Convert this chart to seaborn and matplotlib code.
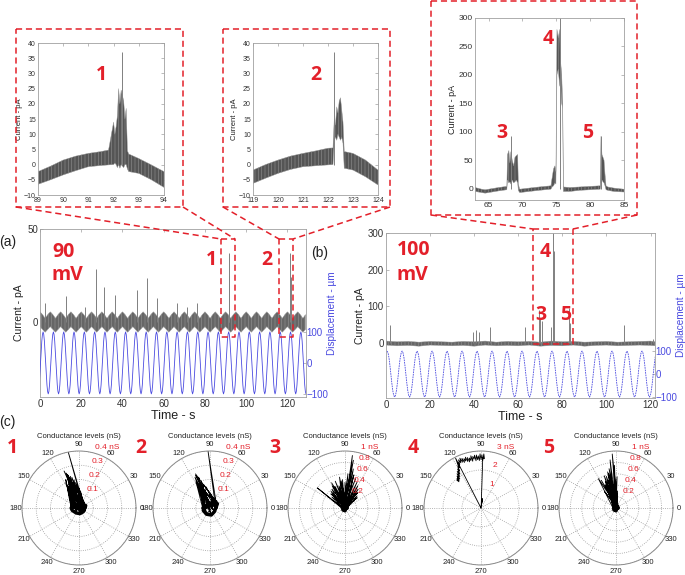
import numpy as np
import matplotlib
matplotlib.use('Agg')
import matplotlib.pyplot as plt
import seaborn as sns

W, H = 685, 575
RED = '#e3202a'
BLUE = '#4a4ae0'
GRAY = '#555555'

# ---------------- panel (a), 90 mV ----------------
a_band_step = 1.25
a_band_hi_cycle = [5.5, 4.0, 2.0, 4.0]
a_band_lo_cycle = [-2.5, -4.0, -5.5, -4.0]
a_band_cycles = 26
a_spike_t = [2.4, 12.6, 21.8, 27.2, 31.0, 36.4, 47.0, 51.9, 56.6, 66.3, 71.2, 76.0, 91.5, 91.8, 121.4, 121.7]
a_spike_h = [10, 14, 8, 28.5, 19, 14.5, 17, 23.6, 13, 10, 8, 10, 37, 25, 37, 24]
a_disp_cycle = [100, 92, 71, 38, 0, -38, -71, -92, -100, -92, -71, -38, 0, 38, 71, 92]
a_disp_period = 5.0
a_disp_first_peak = -3.5
a_disp_cycles = 28

# ---------------- panel (b), 100 mV ----------------
b_band_t = [0, 5, 10, 15, 20, 25, 30, 35, 40, 45, 50, 55, 60, 65, 70, 75, 80, 85, 90, 95, 100, 105, 110, 115, 120, 122]
b_band_hi = [6, 4, 5, 3, 5, 4, 3, 5, 4, 6, 3, 5, 4, 5, 3, 6, 4, 5, 3, 4, 5, 3, 4, 5, 6, 4]
b_band_lo = [-5, -7, -6, -8, -5, -6, -7, -6, -8, -5, -7, -6, -7, -5, -8, -6, -7, -5, -8, -6, -5, -7, -6, -5, -6, -7]
b_spike_t = [1.8, 39.5, 41.0, 42.3, 47.0, 63.0, 69.3, 70.0, 70.6, 74.9, 75.9, 76.3, 83.0, 83.5, 108.0, 121.0]
b_spike_h = [50, 30, 35, 30, 45, 45, 90, 65, 60, 45, 300, 250, 95, 55, 50, 12]
b_disp_cycle = [100, 92, 71, 38, 0, -38, -71, -92, -100, -92, -71, -38, 0, 38, 71, 92]
b_disp_period = 6.8
b_disp_first_peak = 0.5
b_disp_cycles = 18

# ---------------- zoom insets ----------------
i1_t = [89, 89.5, 90, 90.5, 91, 91.5, 91.8, 92.0, 92.05, 92.1, 92.15, 92.2, 92.25, 92.3, 92.4, 92.45, 92.5, 92.55, 92.6, 93, 93.5, 94]
i1_hi = [-2.3, -0.5, 1.5, 2.8, 3.7, 4.3, 4.8, 14, 10, 12.5, 16, 25, 20, 24.5, 21, 15, 18.5, 4.5, 3.5, 2, -0.1, -2.3]
i1_lo = [-6.5, -5, -3.4, -2, -0.7, -0.3, -0.1, 0, 0.5, 0, -1, 0, -1.2, 0, -1, 0, 0, -1.5, -2.3, -2.9, -5, -7.5]
i1_spike_t = [92.35]
i1_spike_h = [37]

i2_t = [119, 119.5, 120, 120.5, 121, 121.5, 122, 122.2, 122.25, 122.3, 122.35, 122.4, 122.45, 122.5, 122.55, 122.6, 122.65, 123, 123.5, 124]
i2_hi = [-1.8, 0, 1.5, 2.8, 3.7, 4.5, 5.4, 5.5, 15, 13, 19, 17, 21, 22, 18, 14, 4.3, 3.7, 1.5, -1.8]
i2_lo = [-6.2, -4.5, -2.9, -1.6, -0.7, -0.4, -0.1, 0, 8, 9, 8, 10, 9, 8, 9, 7, -1.2, -1.8, -4, -6.7]
i2_spike_t = [122.25]
i2_spike_h = [37]

i3_t = [63, 64, 64.5, 65.5, 66.5, 67.7, 67.8, 68.0, 68.15, 68.3, 68.5, 68.7, 68.9, 69.1, 69.3, 69.4, 69.6, 71, 72.5,
        74.2, 74.4, 74.6, 74.8, 74.95, 75.1, 75.3, 75.5, 75.6, 75.8, 75.95, 76.05, 77, 78.5, 80, 81.5, 81.6, 81.75,
        81.9, 82.05, 82.2, 82.35, 82.6, 83.5, 85]
i3_hi = [2, -1, -2, 0, 2, 4, 60, 67, 45, 65, 50, 40, 55, 58, 60, 8, -1, 1, 3,
         5, 20, 35, 40, 30, 280, 265, 280, 230, 200, 150, 3, 2, 3, 4, 5, 92, 60,
         55, 50, 25, 5, 3, 1, -1]
i3_lo = [-5, -7, -8, -6, -4, -2, 15, 10, 12, 8, 15, 10, 12, 15, 10, -3, -7, -5, -3,
         -1, 3, 5, 10, 8, 200, 210, 180, 190, 150, 140, -5, -5, -3, -2, -1, 10, 15,
         12, 10, 5, -2, -3, -5, -6]
i3_spike_t = [68.3, 75.5, 81.6]
i3_spike_h = [93, 300, 92]

# ---------------- polar conductance plots (deg, nS) ----------------
p1_theta = [101, 112, 110, 108, 115, 105, 100, 118, 98, 104, 95, 90, 85, 120, 113, 107, 102, 96, 80, 75, 109, 117, 103, 111]
p1_r = [0.41, 0.28, 0.26, 0.24, 0.22, 0.23, 0.2, 0.2, 0.18, 0.17, 0.15, 0.14, 0.12, 0.15, 0.18, 0.21, 0.19, 0.16, 0.1, 0.08, 0.25, 0.17, 0.22, 0.2]
p1_blob_theta = [0, 40, 90, 150, 180, 200, 240, 280, 320, 20, 170, 340]
p1_blob_r = [0.04, 0.035, 0.025, 0.04, 0.055, 0.05, 0.04, 0.04, 0.04, 0.05, 0.05, 0.04]

p2_theta = [92, 113, 116, 110, 118, 108, 112, 120, 105, 100, 95, 115, 60, 50, 40, 111, 117, 114]
p2_r = [0.4, 0.26, 0.24, 0.23, 0.21, 0.2, 0.19, 0.18, 0.17, 0.15, 0.12, 0.16, 0.08, 0.07, 0.06, 0.22, 0.2, 0.25]
p2_blob_theta = [0, 45, 90, 160, 200, 240, 280, 320, 30, 180]
p2_blob_r = [0.04, 0.06, 0.025, 0.04, 0.05, 0.05, 0.05, 0.04, 0.06, 0.05]

p3_theta = [82, 80, 144, 75, 65, 60, 55, 50, 45, 120, 125, 130, 110, 100, 95, 90, 105, 115, 135, 70, 85, 140, 40, 78, 98, 118]
p3_r = [0.93, 0.85, 0.6, 0.6, 0.5, 0.45, 0.4, 0.35, 0.3, 0.45, 0.4, 0.38, 0.5, 0.55, 0.5, 0.45, 0.4, 0.42, 0.35, 0.55, 0.6, 0.3, 0.28, 0.7, 0.48, 0.5]
p3_blob_theta = [0, 90, 180, 270, 45, 225]
p3_blob_r = [0.04, 0.03, 0.04, 0.05, 0.04, 0.05]

p4_theta = [0, 83, 80, 82, 84, 88,
            86, 87, 88, 89, 90, 91, 92, 93, 94, 95, 96, 97, 98, 99, 100, 101, 102, 103, 104, 105, 106, 107, 108,
            109, 110, 111, 112, 113, 114, 115, 116, 117, 118, 119, 120, 121, 122, 123, 124, 125, 126, 127, 128,
            129, 130, 131,
            129, 126, 123, 120, 118, 117, 0]
p4_r = [0, 0.45, 0.15, 0.5, 0.1, 2.65,
        2.6, 2.85, 2.5, 2.8, 2.55, 2.85, 2.5, 2.75, 2.55, 2.8, 2.5, 2.8, 2.6, 2.75, 2.5, 2.8, 2.55, 2.7, 2.5,
        2.75, 2.55, 2.8, 2.6, 2.75, 2.55, 2.8, 2.6, 2.85, 2.6, 2.8, 2.55, 2.7, 2.4, 2.5, 2.25, 2.4, 2.1, 2.3,
        2.0, 2.2, 1.9, 2.1, 1.85, 2.0, 1.8, 1.95,
        1.9, 2.05, 2.15, 2.35, 2.6, 2.95, 0]

p5_theta = [94, 97, 92, 100, 103, 121, 118, 110, 105, 115, 112, 108, 125, 99, 88, 85, 102, 107]
p5_r = [0.95, 0.85, 0.75, 0.7, 0.65, 0.6, 0.55, 0.6, 0.5, 0.45, 0.5, 0.4, 0.35, 0.45, 0.55, 0.3, 0.62, 0.58]
p5_blob_theta = [0, 90, 180, 270, 45, 225]
p5_blob_r = [0.04, 0.03, 0.04, 0.05, 0.04, 0.05]

angle_ticks = list(range(0, 360, 30))
ring_small = [0.1, 0.2, 0.3, 0.4]
ring_small_lab = ['0.1', '0.2', '0.3', '0.4 nS']
ring_one = [0.2, 0.4, 0.6, 0.8, 1.0]
ring_one_lab = ['0.2', '0.4', '0.6', '0.8', '1 nS']
ring_three = [1, 2, 3]
ring_three_lab = ['1', '2', '3 nS']

sns.set_theme(style='white')
plt.rcParams['font.family'] = ['Liberation Sans', 'DejaVu Sans']
plt.rcParams['hatch.linewidth'] = 0.35
BIG = ['Open Sans', 'DejaVu Sans']

fig = plt.figure(figsize=(W / 100, H / 100), dpi=100)
fig.patch.set_facecolor('white')


def rect(x0, y0, x1, y1):
    return [x0 / W, 1 - y1 / H, (x1 - x0) / W, (y1 - y0) / H]


def style(ax, fs):
    for s in ax.spines.values():
        s.set_color('#a0a0a0')
        s.set_linewidth(0.6)
    ax.tick_params(direction='in', length=2, width=0.5, colors='#a0a0a0',
                   labelcolor='#333333', labelsize=fs, pad=1.5, top=True, right=True)


def trace(ax, t, lo, hi, st, sh, base, face):
    ax.fill_between(t, lo, hi, facecolor=face, edgecolor='#9a9a9a', hatch='|||||', lw=0.3)
    ax.vlines(st, base, sh, color='#808080', lw=0.7)


# zoom insets
for box, t, lo, hi, st, sh, xl, yl, xt, yt, fs, lfs in [
        ((38, 43, 164, 195), i1_t, i1_lo, i1_hi, i1_spike_t, i1_spike_h, (89, 94), (-10, 40), range(89, 95), range(-10, 41, 5), 5, 5.5),
        ((253, 43, 378, 195), i2_t, i2_lo, i2_hi, i2_spike_t, i2_spike_h, (119, 124), (-10, 40), range(119, 125), range(-10, 41, 5), 5, 5.5),
        ((475, 18, 624, 200), i3_t, i3_lo, i3_hi, i3_spike_t, i3_spike_h, (63, 85), (-20, 300), range(65, 86, 5), range(0, 301, 50), 6, 6.5)]:
    ax = fig.add_axes(rect(*box))
    trace(ax, t, lo, hi, st, sh, 0, GRAY)
    ax.set_xlim(*xl)
    ax.set_ylim(*yl)
    ax.set_xticks(list(xt))
    ax.set_yticks(list(yt))
    style(ax, fs)
    ax.set_ylabel('Current - pA', fontsize=lfs, labelpad=1, color='#222222')

# main panels
for box, band, st, sh, cyc, per, first, ncyc, xlim, ylim, yt, dlim, ls in [
        ((40, 229, 306, 397), 'a', a_spike_t, a_spike_h, a_disp_cycle, a_disp_period, a_disp_first_peak, a_disp_cycles,
         (0, 129), (-40.3, 50), [0, 50], (-110, 432), '-'),
        ((386, 233, 655, 398), 'b', b_spike_t, b_spike_h, b_disp_cycle, b_disp_period, b_disp_first_peak, b_disp_cycles,
         (0, 122), (-149, 300), [0, 100, 200, 300], (-104, 613), (0, (2, 1)))]:
    ax = fig.add_axes(rect(*box))
    if band == 'a':
        n = len(a_band_hi_cycle) * a_band_cycles
        bt = np.arange(n) * a_band_step
        trace(ax, bt, np.tile(a_band_lo_cycle, a_band_cycles), np.tile(a_band_hi_cycle, a_band_cycles), st, sh, 0, '#666666')
    else:
        trace(ax, b_band_t, b_band_lo, b_band_hi, st, sh, 0, '#666666')
    ax.set_xlim(*xlim)
    ax.set_ylim(*ylim)
    ax.set_yticks(yt)
    ax.set_xticks(range(0, 121, 20))
    style(ax, 7)
    ax.tick_params(right=False)
    ax.set_ylabel('Current - pA', fontsize=7.5, labelpad=2, color='#222222')
    ax.set_xlabel('Time - s', fontsize=9, labelpad=1, color='#222222')
    ax2 = ax.twinx()
    dt = first + np.arange(len(cyc) * ncyc) * per / len(cyc)
    sns.lineplot(x=dt, y=np.tile(cyc, ncyc), ax=ax2, color=BLUE, lw=0.6, linestyle=ls)
    ax2.set_ylim(*dlim)
    ax2.set_xlim(*xlim)
    ax2.set_yticks([-100, 0, 100])
    for s in ax2.spines.values():
        s.set_visible(False)
    ax2.tick_params(direction='in', length=2, width=0.5, colors='#a0a0a0', labelcolor=BLUE, labelsize=7, pad=0.5)
    ax2.set_ylabel('Displacement - µm', fontsize=7.2, color=BLUE, labelpad=-1)

# polar plots
centers = [79, 210, 345, 481, 616]
cy = 508
rad = 57
polar_sets = [
    (p1_theta, p1_r, p1_blob_theta, p1_blob_r, ring_small, ring_small_lab),
    (p2_theta, p2_r, p2_blob_theta, p2_blob_r, ring_small, ring_small_lab),
    (p3_theta, p3_r, p3_blob_theta, p3_blob_r, ring_one, ring_one_lab),
    (p4_theta, p4_r, None, None, ring_three, ring_three_lab),
    (p5_theta, p5_r, p5_blob_theta, p5_blob_r, ring_one, ring_one_lab),
]
for k, (cx, (th, r, bth, br, rings, rlab)) in enumerate(zip(centers, polar_sets)):
    pax = fig.add_axes(rect(cx - rad, cy - rad, cx + rad, cy + rad), projection='polar')
    if bth is None:
        pth, pr = th, r
    else:
        pth, pr = [], []
        for i in range(len(th)):
            pth += [bth[i % len(bth)], th[i]]
            pr += [br[i % len(br)], r[i]]
        pth += bth
        pr += br
    sns.lineplot(x=np.deg2rad(pth), y=pr, ax=pax, sort=False, estimator=None, color='black', lw=0.6)
    if bth is not None:
        pax.plot(np.deg2rad(bth), br, color='black', lw=2.5)
    rmax = rings[-1]
    pax.set_ylim(0, rmax)
    pax.set_thetagrids(angle_ticks, [''] * len(angle_ticks))
    pax.set_rgrids(rings, [''] * len(rings))
    pax.grid(True, color='#9a9a9a', linestyle=':', linewidth=0.6)
    pax.spines['polar'].set_color('#8a8a8a')
    pax.spines['polar'].set_linewidth(0.7)
    pax.set_xlabel('')
    pax.set_ylabel('')
    for a in angle_ticks:
        pax.text(np.deg2rad(a), rmax * 1.11, str(a), fontsize=5.5, ha='center', va='center',
                 color='#222222', clip_on=False)
    for rv, lab in zip(rings, rlab):
        pax.annotate(lab, xy=(np.deg2rad(78), rv), xytext=(3, 1), textcoords='offset points',
                     fontsize=6, color=RED, ha='left', va='bottom', annotation_clip=False)
    fig.text(cx / W, 1 - 436 / H, 'Conductance levels (nS)', fontsize=5.5, ha='center', va='center', color='#222222')

# overlay: labels, dashed zoom boxes and connectors
ov = fig.add_axes([0, 0, 1, 1], facecolor='none')
ov.set_xlim(0, W)
ov.set_ylim(H, 0)
ov.axis('off')
boxes = [(16, 29, 183, 207), (223, 29, 390, 207), (431, 1, 637, 215),
         (221, 239, 235, 337), (279, 239, 293, 337), (533, 229, 573, 344)]
for x0, y0, x1, y1 in boxes:
    ov.plot([x0, x1, x1, x0, x0], [y0, y0, y1, y1, y0], color=RED, lw=1.1, ls=(0, (4, 2.5)))
links = [((16, 207), (221, 239)), ((183, 207), (235, 239)), ((223, 207), (279, 239)),
         ((390, 207), (293, 239)), ((431, 215), (533, 229)), ((637, 215), (573, 229))]
for (x0, y0), (x1, y1) in links:
    ov.plot([x0, x1], [y0, y1], color=RED, lw=1.1, ls=(0, (4, 2.5)))

big = dict(color=RED, fontweight='bold', family=BIG, ha='center', va='center', fontsize=14)
for txt, x, y in [('1', 101, 75), ('2', 316, 75), ('3', 502, 133), ('4', 548, 39), ('5', 588, 133),
                  ('1', 211, 260), ('2', 267, 260), ('4', 545, 252), ('3', 541, 315), ('5', 566, 315),
                  ('1', 12, 448), ('2', 141, 448), ('3', 275, 448), ('4', 413, 448), ('5', 549, 448)]:
    ov.text(x, y, txt, **big)
for txt, x, y in [('90', 52, 252), ('mV', 52, 275), ('100', 397, 250), ('mV', 397, 275)]:
    ov.text(x, y, txt, color=RED, fontweight='bold', family=BIG, ha='left', va='center', fontsize=14)
for txt, x, y in [('(a)', 8, 242), ('(b)', 320, 253), ('(c)', 7, 422)]:
    ov.text(x, y, txt, ha='center', va='center', fontsize=10, color='#222222')

fig.savefig('out.png', dpi=100)
